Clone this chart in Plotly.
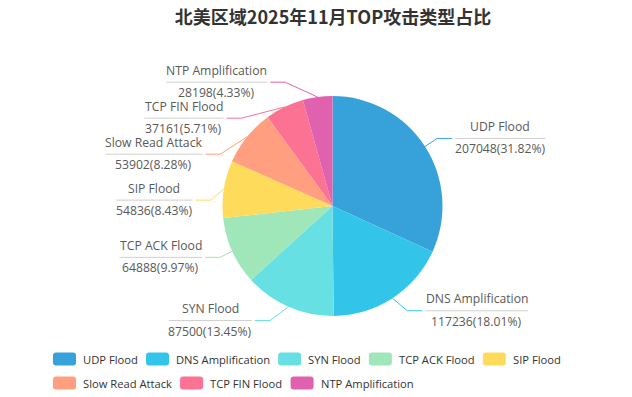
import math
import plotly.graph_objects as go

# ---------------- data ----------------
TITLE = "北美区域2025年11月TOP攻击类型占比"
categories = ["UDP Flood", "DNS Amplification", "SYN Flood", "TCP ACK Flood",
              "SIP Flood", "Slow Read Attack", "TCP FIN Flood", "NTP Amplification"]
counts = [207048, 117236, 87500, 64888, 54836, 53902, 37161, 28198]
colors = ["#37a2da", "#32c5e9", "#67e0e3", "#9fe6b8",
          "#ffdb5c", "#ff9f7f", "#fb7293", "#e062ae"]

# ---------------- layout constants (pixels) ----------------
W, H = 632, 397
CX, CY, R = 332.5, 206.0, 110.0
LEN1, LEN2, LDIST = 15.0, 15.0, 3.0
LABEL_H = 36.0
FONT = "Open Sans"
LABEL_FS = 12.2
LEGEND_FS = 11.2
LABEL_COLOR = "#595959"
RULE_COLOR = "#cfcfcf"

# approximate Open Sans advance widths (em)
EM = {" ": 0.26, "%": 0.819, "(": 0.295, ")": 0.295, ".": 0.266,
      "A": 0.633, "C": 0.634, "D": 0.722, "F": 0.532, "I": 0.292, "K": 0.613,
      "L": 0.519, "N": 0.748, "P": 0.592, "R": 0.619, "S": 0.539, "T": 0.552,
      "U": 0.733, "Y": 0.558,
      "a": 0.556, "c": 0.479, "d": 0.613, "e": 0.561, "f": 0.339, "i": 0.253,
      "k": 0.516, "l": 0.253, "m": 0.930, "n": 0.614, "o": 0.604, "p": 0.613,
      "r": 0.408, "t": 0.352, "w": 0.800}
for _d in "0123456789":
    EM[_d] = 0.572


def text_w(s, size):
    return sum(EM.get(ch, 0.57) for ch in s) * size


total = sum(counts)
pcts = [v / total * 100 for v in counts]

# ---------------- label layout (outer labels with leader lines) ----------------
items = []
cum = 0.0
for i, (name, v) in enumerate(zip(categories, counts)):
    mid = (cum + v / 2) / total * 2 * math.pi
    cum += v
    dx, dy = math.sin(mid), -math.cos(mid)
    side = 1 if dx >= 0 else -1
    x2, y2 = CX + (R + LEN1) * dx, CY + (R + LEN1) * dy
    items.append(dict(i=i, side=side, x0=CX + R * dx, y0=CY + R * dy,
                      x=x2 + side * (LEN2 + LDIST), y=y2, h=LABEL_H))


def adjust_side(lst, dirn):
    lst.sort(key=lambda it: it["y"])
    n = len(lst)

    def shift_up(end, delta):
        for j in range(end, -1, -1):
            if lst[j]["y"] - delta < 0:
                break
            lst[j]["y"] -= delta
            if j > 0 and lst[j]["y"] > lst[j - 1]["y"] + lst[j - 1]["h"]:
                break

    def shift_down(start, end, delta):
        for j in range(start, end):
            if lst[j]["y"] + delta > H:
                break
            lst[j]["y"] += delta
            if j > start and j + 1 < end and lst[j + 1]["y"] > lst[j]["y"] + lst[j]["h"]:
                shift_up(j, delta / 2)
                return
        shift_up(end - 1, delta / 2)

    last_y = 0.0
    for k in range(n):
        delta = lst[k]["y"] - last_y
        if delta < 0:
            shift_down(k, n, -delta)
        last_y = lst[k]["y"] + lst[k]["h"]
    if H - last_y < 0:
        shift_up(n - 1, last_y - H)

    def change_x(sub, is_down):
        last = float("inf") if is_down else 0.0
        for it in sub:
            dyy = abs(it["y"] - CY)
            if dyy < R + LEN1:
                ddx = math.sqrt((R + LEN1 + LEN2) ** 2 - dyy ** 2)
            else:
                ddx = abs(it["x"] - CX)
            if is_down and ddx >= last:
                ddx = last - 10
            if (not is_down) and ddx <= last:
                ddx = last + 10
            it["x"] = CX + ddx * dirn
            last = ddx

    change_x([it for it in lst if it["y"] < CY], False)
    change_x([it for it in lst if it["y"] >= CY], True)


adjust_side([it for it in items if it["side"] > 0], 1)
adjust_side([it for it in items if it["side"] < 0], -1)

# ---------------- figure ----------------
fig = go.Figure()

fig.add_trace(go.Pie(
    labels=categories, values=counts, sort=False, direction="clockwise", rotation=0,
    marker=dict(colors=colors, line=dict(width=0)),
    textinfo="none", showlegend=False,
    domain=dict(x=[(CX - R) / W, (CX + R) / W], y=[(H - CY - R) / H, (H - CY + R) / H]),
    hovertemplate="%{label}<br>%{value} (%{percent})<extra></extra>",
))

shapes = []
annotations = []

for it in items:
    i = it["i"]
    s = it["side"]
    p2x = it["x"] - s * LDIST
    p1x = p2x - s * LEN2
    fig.add_trace(go.Scatter(
        x=[it["x0"], p1x, p2x], y=[it["y0"], it["y"], it["y"]], mode="lines",
        line=dict(color=colors[i], width=1), hoverinfo="skip", showlegend=False))
    name = categories[i]
    val = f"{counts[i]}({pcts[i]:.2f}%)"
    bw = max(text_w(name, LABEL_FS), text_w(val, LABEL_FS))
    if s > 0:
        bx0, bx1 = it["x"], it["x"] + bw
    else:
        bx0, bx1 = it["x"] - bw, it["x"]
    bc = (bx0 + bx1) / 2
    shapes.append(dict(type="line", xref="x", yref="y", x0=bx0, x1=bx1,
                       y0=it["y"], y1=it["y"], line=dict(color=RULE_COLOR, width=1)))
    annotations.append(dict(x=bc, y=it["y"] - 12, xref="x", yref="y", text=name,
                            showarrow=False, xanchor="center", yanchor="middle",
                            font=dict(family=FONT, size=LABEL_FS, color=LABEL_COLOR)))
    annotations.append(dict(x=bc, y=it["y"] + 10.5, xref="x", yref="y", text=val,
                            showarrow=False, xanchor="center", yanchor="middle",
                            font=dict(family=FONT, size=LABEL_FS, color=LABEL_COLOR)))

# ---------------- legend (echarts-style, two rows) ----------------
SW_W, SW_H, SW_R = 23.0, 13.0, 3.0
LEG_X0, LEG_MAX_X, LEG_Y0, LEG_ROW = 53.0, 600.0, 359.0, 24.0
lx, ly = LEG_X0, LEG_Y0
for i, name in enumerate(categories):
    iw = SW_W + 5 + text_w(name, LEGEND_FS)
    if lx + iw > LEG_MAX_X:
        lx = LEG_X0
        ly += LEG_ROW
    x0, x1, y0, y1 = lx, lx + SW_W, ly - SW_H / 2, ly + SW_H / 2
    r = SW_R
    path = (f"M{x0 + r},{y0} L{x1 - r},{y0} Q{x1},{y0} {x1},{y0 + r} "
            f"L{x1},{y1 - r} Q{x1},{y1} {x1 - r},{y1} L{x0 + r},{y1} "
            f"Q{x0},{y1} {x0},{y1 - r} L{x0},{y0 + r} Q{x0},{y0} {x0 + r},{y0} Z")
    shapes.append(dict(type="path", xref="x", yref="y", path=path,
                       fillcolor=colors[i], line=dict(width=0)))
    annotations.append(dict(x=lx + SW_W + 5, y=ly, xref="x", yref="y", text=name,
                            showarrow=False, xanchor="left", yanchor="middle",
                            font=dict(family=FONT, size=LEGEND_FS, color="#333333")))
    lx += iw + 10

fig.update_layout(
    width=W, height=H, margin=dict(l=0, r=0, t=0, b=0),
    paper_bgcolor="white", plot_bgcolor="rgba(0,0,0,0)",
    title=dict(text=TITLE, x=333 / W, xanchor="center", y=1 - 18 / H, yref="container",
               yanchor="middle",
               font=dict(family="Noto Sans CJK SC", size=18, color="#333333", weight="bold")),
    xaxis=dict(range=[0, W], visible=False, fixedrange=True, domain=[0, 1]),
    yaxis=dict(range=[H, 0], visible=False, fixedrange=True, domain=[0, 1]),
    shapes=shapes, annotations=annotations, showlegend=False,
)

fig.write_html("out.html", config={"displayModeBar": False},
               post_script="document.body.style.margin='0';document.body.style.overflow='hidden';")
